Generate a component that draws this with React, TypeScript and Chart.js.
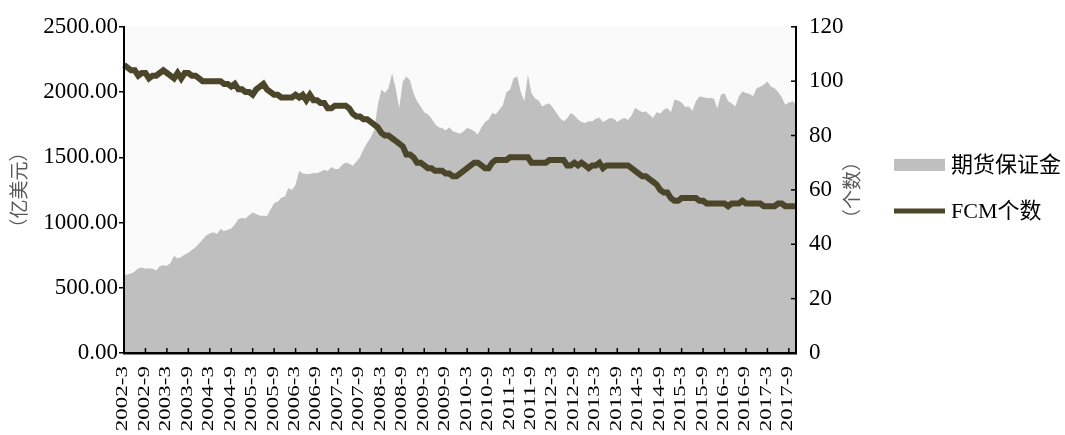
import { useEffect, useRef } from 'react';
import { Chart, registerables } from 'chart.js';
Chart.register(...registerables);

// Categories: monthly, 2002-3 .. 2017-11
const startYear = 2002;
const startMonth = 3;
const monthCount = 189;
const months: string[] = [];
for (let k = 0; k < monthCount; k++) {
  const m = startMonth - 1 + k;
  months.push(`${startYear + Math.floor(m / 12)}-${(m % 12) + 1}`);
}

const seriesNames = ['期货保证金', 'FCM个数'];
const leftTitle = '（亿美元）';
const rightTitle = '（个数）';

// 期货保证金 (亿美元)
const marginFunds = [
  600, 602, 610, 625, 650, 655, 645, 650, 645, 632,
  665, 672, 668, 690, 745, 725, 735, 755, 768, 790, 810, 840,
  870, 900, 915, 925, 912, 950, 935, 945, 955, 985, 1027, 1035,
  1030, 1055, 1077, 1065, 1052, 1052, 1050, 1100, 1150, 1160, 1190, 1200,
  1265, 1250, 1290, 1395, 1375, 1372, 1372, 1380, 1378, 1390, 1405, 1395,
  1425, 1410, 1410, 1440, 1460, 1450, 1435, 1465, 1500, 1560, 1610, 1650,
  1710, 1900, 2017, 1995, 2030, 2144, 2030, 1877, 2080, 2119, 2090, 1990,
  1930, 1890, 1845, 1830, 1800, 1755, 1730, 1725, 1705, 1730, 1700, 1690,
  1680, 1700, 1725, 1715, 1700, 1674, 1730, 1770, 1790, 1839, 1830, 1865,
  1900, 2000, 2017, 2106, 2119, 2000, 1930, 2132, 1990, 1950, 1935, 1890,
  1905, 1915, 1880, 1839, 1800, 1776, 1800, 1839, 1820, 1790, 1770, 1763,
  1776, 1776, 1795, 1805, 1770, 1785, 1801, 1795, 1770, 1790, 1801, 1785,
  1820, 1880, 1860, 1845, 1850, 1825, 1801, 1845, 1835, 1865, 1877, 1845,
  1941, 1935, 1920, 1885, 1890, 1857, 1930, 1966, 1962, 1955, 1954, 1950,
  1873, 1979, 1990, 1930, 1915, 1890, 1966, 2005, 1992, 1985, 1970, 2030,
  2040, 2056, 2081, 2040, 2030, 2000, 1960, 1903, 1920, 1930, 1910,
];

// FCM个数
const fcmCount = [
  106, 105, 104, 104, 102, 103, 103, 101, 102, 102,
  103, 104, 103, 102, 101, 103, 101, 103, 103, 102, 102, 101,
  100, 100, 100, 100, 100, 100, 99, 99, 98, 99, 97, 97,
  96, 96, 95, 97, 98, 99, 97, 96, 95, 95, 94, 94,
  94, 94, 95, 94, 95, 93, 95, 93, 93, 92, 92, 90,
  90, 91, 91, 91, 91, 90, 88, 87, 87, 86, 86, 85,
  84, 83, 81, 80, 80, 79, 78, 77, 76, 73, 73, 72,
  70, 70, 69, 68, 68, 67, 67, 67, 66, 66, 65, 65,
  66, 67, 68, 69, 70, 70, 69, 68, 68, 70, 71, 71,
  71, 71, 72, 72, 72, 72, 72, 72, 70, 70, 70, 70,
  70, 71, 71, 71, 71, 71, 69, 69, 70, 69, 70, 69,
  68, 69, 69, 70, 68, 69, 69, 69, 69, 69, 69, 69,
  68, 67, 66, 65, 65, 64, 63, 62, 60, 59, 59, 57,
  56, 56, 57, 57, 57, 57, 57, 56, 56, 55, 55, 55,
  55, 55, 55, 54, 55, 55, 55, 56, 55, 55, 55, 55,
  55, 54, 54, 54, 54, 55, 55, 54, 54, 54, 54,
];

const areaColor = '#bfbfbf';
const lineColor = '#4b4529';
const serif = "'Liberation Serif', 'Noto Sans CJK SC', serif";
const cjk = "'Noto Sans CJK SC', sans-serif";

const decorPlugin = {
  id: 'decor',
  beforeDraw(chart: any) {
    const { ctx, chartArea: a } = chart;
    ctx.save();
    ctx.fillStyle = '#fafafa';
    ctx.fillRect(a.left, a.top, a.right - a.left, a.bottom - a.top);
    ctx.restore();
  },
  afterDraw(chart: any) {
    const { ctx, chartArea: a, scales } = chart;
    const xs = scales.x;
    const y1 = scales.y1;
    const midY = (a.top + a.bottom) / 2;
    ctx.save();
    ctx.strokeStyle = '#000';
    ctx.lineWidth = 1.5;
    // x tick marks (inward) and stretched tick labels
    months.forEach((lab, i) => {
      if (i % 6 !== 0) return;
      const x = xs.getPixelForValue(i);
      if (i > 0) {
        ctx.beginPath();
        ctx.moveTo(x, a.bottom);
        ctx.lineTo(x, a.bottom - 5);
        ctx.stroke();
      }
      ctx.save();
      ctx.translate(x - 1, a.bottom + 13);
      ctx.rotate(-Math.PI / 2);
      ctx.scale(1, 0.74);
      ctx.font = `23px ${serif}`;
      ctx.fillStyle = '#000';
      ctx.textAlign = 'right';
      ctx.textBaseline = 'middle';
      ctx.fillText(lab, 0, 0);
      ctx.restore();
    });
    // right axis tick marks (inward)
    y1.ticks.forEach((t: any) => {
      const y = y1.getPixelForValue(t.value);
      ctx.beginPath();
      ctx.moveTo(a.right, y);
      ctx.lineTo(a.right - 5, y);
      ctx.stroke();
    });
    // right axis title
    ctx.save();
    ctx.translate(a.right + 56, midY);
    ctx.rotate(-Math.PI / 2);
    ctx.font = `19px ${cjk}`;
    ctx.fillStyle = '#595959';
    ctx.textAlign = 'center';
    ctx.textBaseline = 'middle';
    ctx.fillText(rightTitle, 0, 0);
    ctx.restore();
    // legend
    const lx = a.right + 98;
    const y0 = midY - 25;
    const y2 = midY + 21;
    ctx.fillStyle = areaColor;
    ctx.fillRect(lx, y0 - 6, 51, 12);
    ctx.strokeStyle = lineColor;
    ctx.lineWidth = 5;
    ctx.beginPath();
    ctx.moveTo(lx, y2);
    ctx.lineTo(lx + 51, y2);
    ctx.stroke();
    ctx.font = `22px ${serif}`;
    ctx.fillStyle = '#000';
    ctx.textAlign = 'left';
    ctx.textBaseline = 'middle';
    ctx.fillText(seriesNames[0], lx + 57, y0 + 1);
    ctx.fillText(seriesNames[1], lx + 57, y2 + 1);
    ctx.restore();
  },
};

export default function App() {
  const ref = useRef<HTMLCanvasElement>(null);
  useEffect(() => {
    document.body.style.margin = '0';
    const chart = new Chart(ref.current as HTMLCanvasElement, {
      type: 'line',
      data: {
        labels: months,
        datasets: [
          {
            label: seriesNames[0],
            data: marginFunds,
            yAxisID: 'y',
            fill: 'origin',
            backgroundColor: areaColor,
            borderColor: areaColor,
            borderWidth: 0,
            pointRadius: 0,
            tension: 0,
            order: 2,
          },
          {
            label: seriesNames[1],
            data: fcmCount,
            yAxisID: 'y1',
            fill: false,
            borderColor: lineColor,
            backgroundColor: lineColor,
            borderWidth: 6,
            pointRadius: 0,
            tension: 0,
            order: 1,
          },
        ],
      },
      options: {
        animation: false,
        responsive: true,
        maintainAspectRatio: false,
        events: [],
        layout: { padding: { top: 25, right: 195, bottom: 0, left: 0 } },
        plugins: {
          tooltip: { enabled: false },
          legend: { display: false },
        },
        scales: {
          x: {
            type: 'category',
            offset: false,
            grid: { display: false },
            border: { display: true, color: '#000', width: 2.5, z: 1 },
            ticks: { display: false },
            afterFit: (s: any) => { s.height = 82; },
          },
          y: {
            position: 'left',
            min: 0,
            max: 2500,
            ticks: {
              stepSize: 500,
              color: '#000',
              padding: 1,
              font: { family: serif, size: 23 },
              callback: (v: any) => Number(v).toFixed(2),
            },
            grid: { display: true, drawOnChartArea: false, drawTicks: true, tickLength: 5, color: '#000', lineWidth: 1.5 },
            border: { display: true, color: '#000', width: 2, z: 1 },
            title: {
              display: true,
              text: leftTitle,
              color: '#595959',
              font: { family: cjk, size: 19 },
              padding: { top: 7, bottom: 0 },
            },
            afterFit: (s: any) => { s.width = 124; },
          },
          y1: {
            position: 'right',
            min: 0,
            max: 120,
            ticks: {
              stepSize: 20,
              color: '#000',
              padding: 13,
              font: { family: serif, size: 23 },
            },
            grid: { display: false, drawTicks: false },
            border: { display: true, color: '#000', width: 2, z: 1 },
            afterFit: (s: any) => { s.width = 74; },
          },
        },
      },
      plugins: [decorPlugin],
    } as any);
    return () => chart.destroy();
  }, []);
  return (
    <div style={{ width: 1065, height: 435, position: 'relative' }}>
      <canvas ref={ref} />
    </div>
  );
}
